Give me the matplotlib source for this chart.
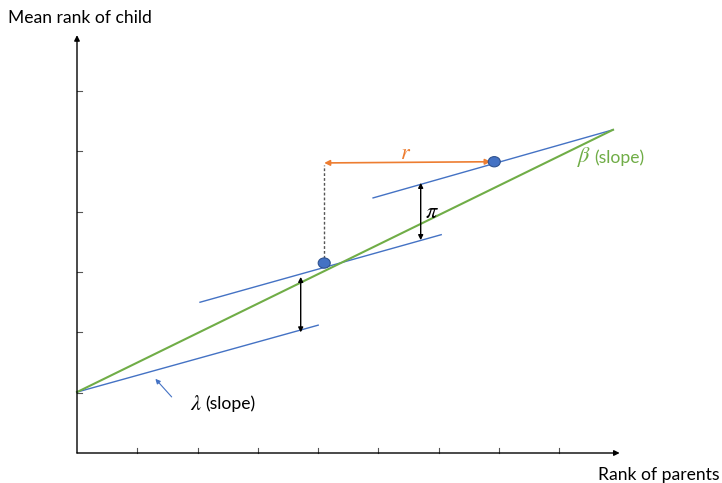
import matplotlib
matplotlib.use("Agg")
import matplotlib.pyplot as plt
from matplotlib.patches import Ellipse

plt.rcParams['font.family'] = ['Lato', 'DejaVu Sans']
plt.rcParams['mathtext.fontset'] = 'stix'

# Diagram data (unit grid)
x_ticks = [1, 2, 3, 4, 5, 6, 7, 8]
y_ticks = [1, 2, 3, 4, 5, 6]
x_axis_end = 9.0
y_axis_end = 6.93

beta_line_x = [0.0, 8.89]
beta_line_y = [1.01, 5.36]
lambda_lines = [
    ([0.0, 4.0], [1.01, 2.12]),
    ([2.04, 6.04], [2.50, 3.62]),
    ([4.91, 8.89], [4.23, 5.36]),
]
points_x = [4.1, 6.92]
points_y = [3.15, 4.83]
r_y = 4.81
pi_arrows = [(3.71, 2.92, 2.0), (5.70, 4.48, 3.53)]

GREEN = '#70AD47'
BLUE = '#4472C4'
ORANGE = '#ED7D31'

fig = plt.figure(figsize=(7.22, 4.83), dpi=100)
ax = fig.add_axes([0, 0, 1, 1])
ax.set_xlim(-1.277, 10.697)
ax.set_ylim(-0.4975, 7.512)
ax.axis('off')

# axes with arrows
ax.annotate('', xy=(x_axis_end, 0), xytext=(0, 0),
            arrowprops=dict(arrowstyle='-|>', color='black', lw=1.0, mutation_scale=8,
                            shrinkA=0, shrinkB=0))
ax.annotate('', xy=(0, y_axis_end), xytext=(0, 0),
            arrowprops=dict(arrowstyle='-|>', color='black', lw=1.0, mutation_scale=8,
                            shrinkA=0, shrinkB=0))
for t in x_ticks:
    ax.plot([t, t], [0, 0.09], color='#555555', lw=0.8)
for t in y_ticks:
    ax.plot([0, 0.09], [t, t], color='#555555', lw=0.8)

ax.text(-1.15, 7.22, 'Mean rank of child', fontsize=12.6, ha='left', va='center')
ax.text(8.64, -0.36, 'Rank of parents', fontsize=12.6, ha='left', va='center')

# lambda lines
for lx, ly in lambda_lines:
    ax.plot(lx, ly, color=BLUE, lw=1.0)
# beta line
ax.plot(beta_line_x, beta_line_y, color=GREEN, lw=1.5)

# dashed vertical
ax.plot([points_x[0], points_x[0]], [points_y[0], r_y - 0.03], color='#555555', lw=1.0,
        linestyle=(0, (2, 1.5)))
# r arrow
ax.annotate('', xy=(points_x[1] - 0.06, r_y + 0.02), xytext=(points_x[0], r_y),
            arrowprops=dict(arrowstyle='<|-|>', color=ORANGE, lw=1.2, mutation_scale=8,
                            shrinkA=0, shrinkB=0))
ax.text(5.45, 4.97, r'$r$', color=ORANGE, fontsize=16, ha='center', va='center')

# points
for px, py in zip(points_x, points_y):
    ax.add_patch(Ellipse((px, py), 0.2, 0.17, facecolor=BLUE, edgecolor='#2F528F',
                         lw=0.8, zorder=5))

# pi double arrows
for ax_x, y_top, y_bot in pi_arrows:
    ax.annotate('', xy=(ax_x, y_top), xytext=(ax_x, y_bot),
                arrowprops=dict(arrowstyle='<|-|>', color='black', lw=1.0, mutation_scale=7,
                                shrinkA=0, shrinkB=0))
ax.text(5.89, 4.0, r'$\pi$', fontsize=16, ha='center', va='center')

# lambda arrow + label
ax.annotate('', xy=(1.30, 1.23), xytext=(1.57, 0.93),
            arrowprops=dict(arrowstyle='-|>', color=BLUE, lw=0.8, mutation_scale=7,
                            shrinkA=0, shrinkB=0))
ax.text(1.87, 0.82, r'$\lambda$', fontsize=16, ha='left', va='center')
ax.text(2.12, 0.81, '(slope)', fontsize=12.6, ha='left', va='center')

# beta label
ax.text(8.30, 4.91, r'$\beta$', fontsize=16, color=GREEN, ha='left', va='center')
ax.text(8.58, 4.9, '(slope)', fontsize=12.6, color=GREEN, ha='left', va='center')

fig.savefig('out.png', dpi=100)
